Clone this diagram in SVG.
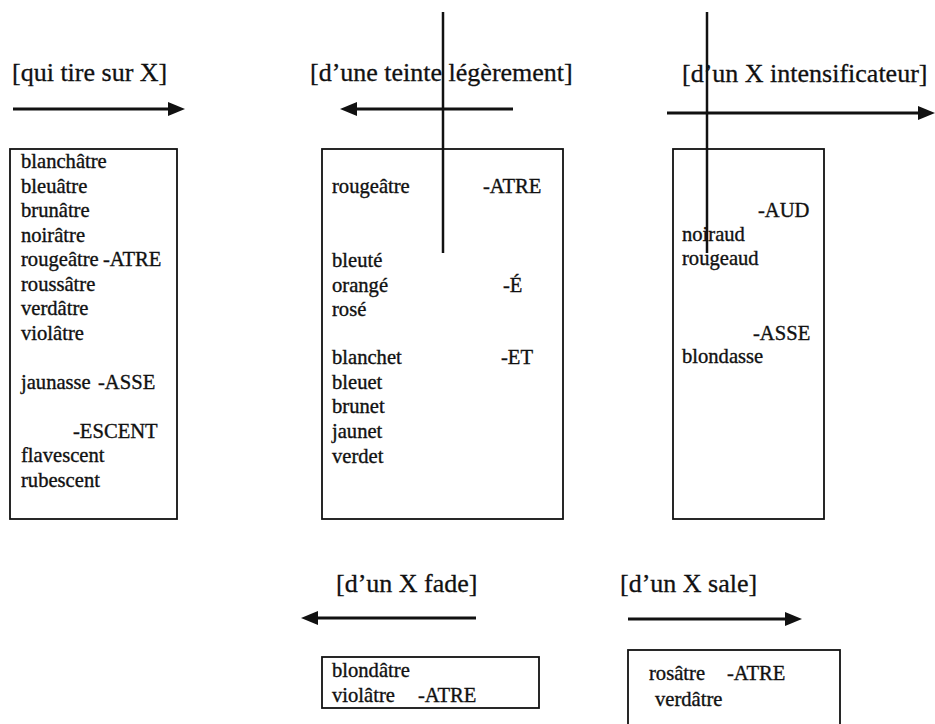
<svg xmlns="http://www.w3.org/2000/svg" width="935" height="724" viewBox="0 0 935 724">
<style>
.hdr{font-family:"Liberation Serif","Times New Roman",serif;font-size:26px;fill:#111;stroke:#111;stroke-width:0.3}
.t{font-family:"Liberation Serif","Times New Roman",serif;font-size:20.6px;fill:#111;stroke:#111;stroke-width:0.35}
.box{fill:none;stroke:#111;stroke-width:1.8}
.ln{stroke:#111;stroke-width:3;fill:none}
.vl{stroke:#111;stroke-width:2.5;fill:none}
</style>
<defs>
<marker id="ah" markerUnits="userSpaceOnUse" markerWidth="17" markerHeight="14" refX="5" refY="7" orient="auto">
<path d="M0,0 L17,7 L0,14 z" fill="#111"/>
</marker>
</defs>
<rect width="935" height="724" fill="#fff"/>

<g id="label-qui-tire"><text class="hdr" x="12" y="81">[qui tire sur X]</text></g>
<g id="label-teinte"><text class="hdr" x="310" y="81">[d’une teinte légèrement]</text></g>
<g id="label-intensificateur"><text class="hdr" x="682" y="82">[d’un X intensificateur]</text></g>
<g id="label-fade"><text class="hdr" x="336" y="592">[d’un X fade]</text></g>
<g id="label-sale"><text class="hdr" x="620" y="592">[d’un X sale]</text></g>

<g id="box-atre">
<rect class="box" x="10" y="149" width="167" height="370"/>
<text class="t" x="21" y="168">blanchâtre</text>
<text class="t" x="21" y="192.5">bleuâtre</text>
<text class="t" x="21" y="217">brunâtre</text>
<text class="t" x="21" y="241.5">noirâtre</text>
<text class="t" x="21" y="266">rougeâtre<tspan x="103">-ATRE</tspan></text>
<text class="t" x="21" y="290.5">roussâtre</text>
<text class="t" x="21" y="315">verdâtre</text>
<text class="t" x="21" y="339.5">violâtre</text>
<text class="t" x="21" y="388.5">jaunasse<tspan x="98">-ASSE</tspan></text>
<text class="t" x="73" y="437.5">-ESCENT</text>
<text class="t" x="21" y="462">flavescent</text>
<text class="t" x="21" y="486.5">rubescent</text>
</g>

<g id="box-teinte">
<rect class="box" x="322" y="149" width="241" height="370"/>
<text class="t" x="332" y="193">rougeâtre</text>
<text class="t" x="483" y="193">-ATRE</text>
<text class="t" x="332" y="267">bleuté</text>
<text class="t" x="332" y="292">orangé</text>
<text class="t" x="503" y="292">-É</text>
<text class="t" x="332" y="316">rosé</text>
<text class="t" x="332" y="364">blanchet</text>
<text class="t" x="501" y="364">-ET</text>
<text class="t" x="332" y="389">bleuet</text>
<text class="t" x="332" y="413">brunet</text>
<text class="t" x="332" y="438">jaunet</text>
<text class="t" x="332" y="463">verdet</text>
</g>

<g id="box-intensificateur">
<rect class="box" x="673" y="149" width="151" height="370"/>
<text class="t" x="758" y="217">-AUD</text>
<text class="t" x="682" y="241">noiraud</text>
<text class="t" x="682" y="265">rougeaud</text>
<text class="t" x="753" y="340">-ASSE</text>
<text class="t" x="682" y="363">blondasse</text>
</g>

<g id="box-fade">
<rect class="box" x="322" y="657" width="217" height="51"/>
<text class="t" x="332" y="677">blondâtre</text>
<text class="t" x="332" y="702">violâtre<tspan x="418">-ATRE</tspan></text>
</g>

<g id="box-sale">
<rect class="box" x="628" y="650" width="212" height="90"/>
<text class="t" x="649" y="680">rosâtre<tspan x="727">-ATRE</tspan></text>
<text class="t" x="655" y="706">verdâtre</text>
</g>

<g id="connectors">
<line class="ln" x1="13" y1="109" x2="173" y2="109" marker-end="url(#ah)"/>
<line class="ln" x1="513" y1="109" x2="352" y2="109" marker-end="url(#ah)"/>
<line class="ln" x1="667" y1="113" x2="923" y2="113" marker-end="url(#ah)"/>
<line class="ln" x1="476" y1="618" x2="313" y2="618" marker-end="url(#ah)"/>
<line class="ln" x1="628" y1="619" x2="790" y2="619" marker-end="url(#ah)"/>
<line class="vl" x1="443" y1="12" x2="443" y2="253"/>
<line class="vl" x1="707" y1="12" x2="707" y2="253"/>
</g>
</svg>
